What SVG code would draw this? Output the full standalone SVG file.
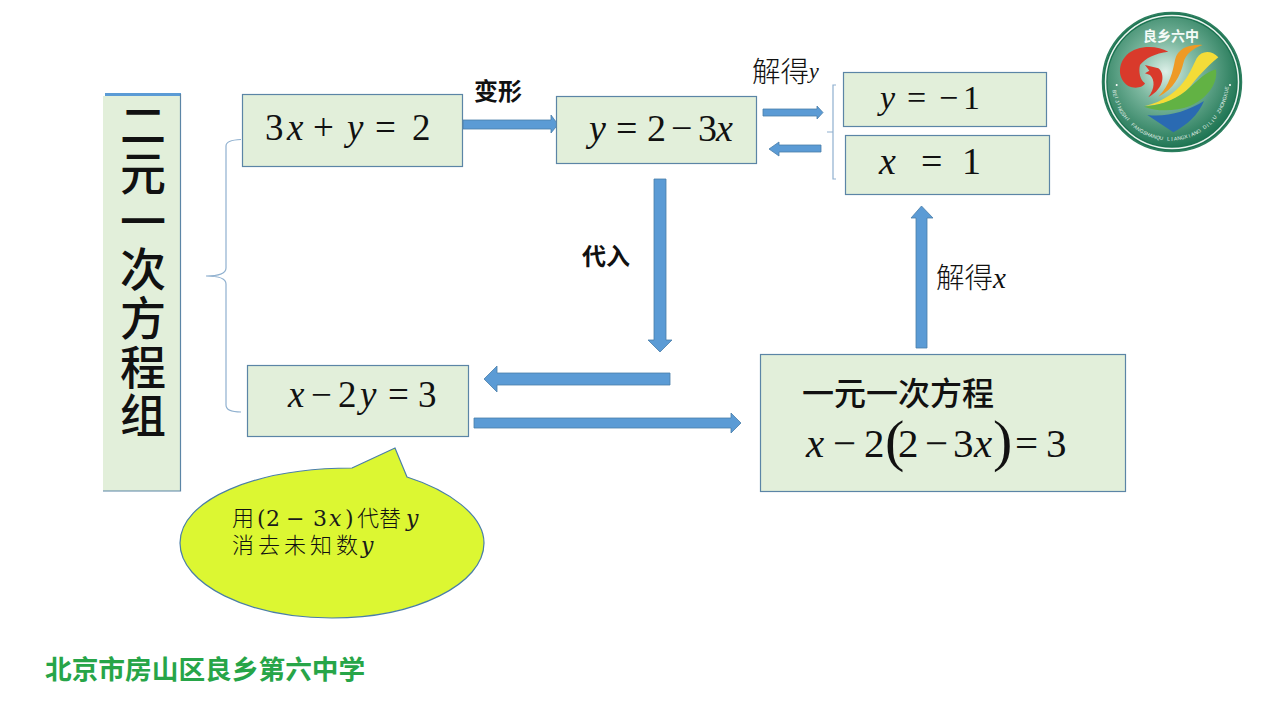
<svg xmlns="http://www.w3.org/2000/svg" width="1280" height="720" viewBox="0 0 1280 720">
<style>
.box{fill:#e2efda;stroke:#5b85a6;stroke-width:1.2}
.arrow{fill:#5b9bd5;stroke:#4a7ea8;stroke-width:.8}
.brace{fill:none;stroke:#8fb0cf;stroke-width:1.2}
.cjk{font-family:"Liberation Serif","Noto Sans CJK SC",serif;fill:#111;font-weight:300}
.sans{font-family:"Noto Sans CJK SC",sans-serif;fill:#111}
.math{font-family:"Liberation Serif","Noto Sans CJK SC",serif;fill:#111}
.i{font-style:italic}
.title{font-family:"Noto Sans CJK SC",sans-serif;font-size:46px;font-weight:500;fill:#111;text-anchor:middle}
.cam{font-family:"DejaVu Serif",serif;fill:#1a1a1a;font-weight:400}
</style>
<rect width="1280" height="720" fill="#fff"/>

<g id="connectors">
<path class="brace" d="M241 139.500Q226 140 226 146V268Q226 276 206 276Q226 276 226 284V405Q226 412 241 412"/>
<path class="brace" stroke="#7f9fbd" d="M836 85H833V132H827H833V179H836"/>
<path class="arrow" d="M463 120H551V115L558 124.500L551 133V129H463Z"/>
<path class="arrow" d="M763 109H817V106L823 112.500L817 119V116H763Z"/>
<path class="arrow" d="M821 145H779V142L769 149L779 156V152H821Z"/>
<path class="arrow" d="M654 179H666V340H672L660 352L648 340H654Z"/>
<path class="arrow" d="M670 373H497V366L484 379L497 392V385H670Z"/>
<path class="arrow" d="M474 418H731V413L741 423L731 433V428H474Z"/>
<path class="arrow" d="M916 348V218H911L921.500 206L933 218H927V348Z"/>
</g>

<g id="title">
<rect x="105" y="93" width="76" height="3" fill="#5b9bd5"/>
<rect x="103" y="96" width="77.500" height="395" fill="#e2efda"/>
<path d="M180.500 94V491H103" fill="none" stroke="#5b85a6" stroke-width="1.200"/>
<text class="title" x="143" y="142">二</text>
<text class="title" x="143" y="190">元</text>
<text class="title" x="143" y="238">一</text>
<text class="title" x="143" y="286">次</text>
<text class="title" x="143" y="335">方</text>
<text class="title" x="143" y="384">程</text>
<text class="title" x="143" y="432">组</text>
</g>

<g id="eq1">
<rect class="box" x="242.500" y="94.500" width="220" height="72"/>
<text class="math" y="140" font-size="37"><tspan x="265">3</tspan><tspan class="i" x="287">x</tspan><tspan x="313">+</tspan><tspan class="i" x="347">y</tspan><tspan x="375">=</tspan><tspan x="412">2</tspan></text>
</g>

<g id="eq2">
<rect class="box" x="556.500" y="96.500" width="200" height="67"/>
<text class="math" y="141" font-size="38"><tspan class="i" x="589">y</tspan><tspan x="616">=</tspan><tspan x="647">2</tspan><tspan x="671">−</tspan><tspan x="698">3</tspan><tspan class="i" x="716">x</tspan></text>
</g>

<g id="result-y">
<rect class="box" x="843.500" y="72.500" width="203" height="54"/>
<text class="math" y="109" font-size="34"><tspan class="i" x="880">y</tspan><tspan x="907">=</tspan><tspan x="939">−</tspan><tspan x="963">1</tspan></text>
</g>

<g id="result-x">
<rect class="box" x="845.500" y="135.500" width="204" height="59"/>
<text class="math" y="174" font-size="38"><tspan class="i" x="879">x</tspan><tspan x="921">=</tspan><tspan x="962">1</tspan></text>
</g>

<g id="eq3">
<rect class="box" x="247.500" y="365.500" width="221" height="71"/>
<text class="math" y="407" font-size="37"><tspan class="i" x="288">x</tspan><tspan x="311">−</tspan><tspan x="338">2</tspan><tspan class="i" x="360">y</tspan><tspan x="388">=</tspan><tspan x="418">3</tspan></text>
</g>

<g id="eq4">
<rect class="box" x="760.500" y="354.500" width="365" height="137"/>
<text class="sans" x="802" y="405" font-size="32" font-weight="500">一元一次方程</text>
<text class="math" y="457" font-size="41"><tspan class="i" x="806">x</tspan><tspan x="833">−</tspan><tspan x="864">2</tspan><tspan x="885" font-size="58" dy="3">(</tspan><tspan x="898" dy="-3">2</tspan><tspan x="925">−</tspan><tspan x="953">3</tspan><tspan class="i" x="974">x</tspan><tspan x="993" font-size="58" dy="3">)</tspan><tspan x="1015" dy="-3">=</tspan><tspan x="1046">3</tspan></text>
</g>

<g id="label-bianxing"><text class="sans" x="474" y="100" font-size="24" font-weight="700">变形</text></g>
<g id="label-dairu"><text class="sans" x="582" y="265" font-size="24" font-weight="700">代入</text></g>
<g id="label-jiedey"><text class="cjk" x="752" y="82" font-size="28.500">解得<tspan class="i" font-size="22" font-weight="400" dy="-4">y</tspan></text></g>
<g id="label-jiedex"><text class="cjk" x="936" y="288" font-size="28.500">解得<tspan class="i" font-weight="400" font-size="29">x</tspan></text></g>

<g id="callout">
<path d="M352 468L395 448L407 477C448 490 484 515 484 543C484 584 416 618 332 618C248 618 180 584 180 543C180 500 255 468 352 468Z" fill="#dcf732" stroke="#4a7ea8" stroke-width="1.200"/>
<text y="526" font-size="22" class="sans" font-weight="300"><tspan x="232">用</tspan><tspan class="cam" x="257">(</tspan><tspan class="cam" x="266">2</tspan><tspan class="cam" x="286">−</tspan><tspan class="cam" x="313">3</tspan><tspan class="cam" font-style="italic" x="329">x</tspan><tspan class="cam" x="345">)</tspan><tspan x="357">代替</tspan><tspan class="cam" font-style="italic" x="406">y</tspan></text>
<text y="553" font-size="22" class="sans" font-weight="300"><tspan x="232" letter-spacing="4">消去未知数</tspan><tspan class="cam" font-style="italic" x="361">y</tspan></text>
</g>

<g id="footer"><text x="45" y="679" font-size="26.700" font-weight="700" fill="#27a548" font-family="Noto Sans CJK SC,serif">北京市房山区良乡第六中学</text></g>

<g id="logo">
<defs>
<radialGradient id="lg" cx=".45" cy=".42" r=".6"><stop offset="0" stop-color="#dcefe8"/><stop offset=".4" stop-color="#7db8a0"/><stop offset="1" stop-color="#1d7452"/></radialGradient>
</defs>
<circle cx="1172" cy="82" r="69.500" fill="#1d7452" stroke="#2d7f5f" stroke-width="1.500"/>
<circle cx="1172" cy="82" r="66.500" fill="none" stroke="#eaf4ef" stroke-width="1.500"/>
<circle cx="1172" cy="82" r="64.500" fill="url(#lg)"/>
<text x="1171" y="41" text-anchor="middle" font-size="14" font-weight="700" fill="#f4fbf7" font-family="Noto Sans CJK SC,sans-serif">良乡六中</text>
<g transform="translate(1090 0) scale(.3333)">
<path d="M235 155C200 135 140 135 110 165C85 190 80 235 115 258C135 268 160 262 165 250C150 240 145 215 150 195C165 175 195 160 235 155Z" fill="#d93a2b"/>
<path d="M165 195L205 205C225 220 225 265 175 292C195 265 195 240 180 225L165 220L178 212Z" fill="#d93a2b"/>
<path d="M338 135C300 132 262 145 255 180C248 215 240 255 205 290C250 270 272 225 280 190C287 160 310 145 338 135Z" fill="#ee9a25"/>
<path d="M385 172C365 150 335 150 320 175C305 205 290 250 240 285C215 302 190 312 165 318C230 315 275 290 300 260C320 235 345 205 385 172Z" fill="#f4dc38"/>
<path d="M378 208C350 215 325 240 300 262C265 295 220 315 162 320C200 335 255 335 300 318C345 300 385 255 378 208Z" fill="#62b244"/>
<path d="M172 345C230 352 290 335 342 303C325 345 290 375 250 397Z" fill="#2a6ab2"/>
<circle cx="80" cy="255" r="3" fill="#fff"/>
<circle cx="420" cy="255" r="3" fill="#fff"/>
</g>
<text font-size="5" fill="#e6f3ed" font-family="Liberation Sans,sans-serif" text-anchor="middle" x="1114.1 1114.7 1115.5 1116.6 1117.9 1119.3 1121 1122.9 1125 1127.3 1129.7 1132.3 1135 1137.9 1140.9 1144.1 1147.3 1150.7 1154.1 1157.6 1161.1 1164.7 1168.4 1172 1175.6 1179.3 1182.9 1186.4 1189.9 1193.3 1196.7 1199.9 1203.1 1206.1 1209 1211.7 1214.3 1216.7 1219 1221.1 1223 1224.7 1226.1 1227.4 1228.5 1229.3 1229.9" y="90.100 93.700 97.300 100.800 104.200 107.500 110.700 113.800 116.800 119.700 122.400 124.900 127.300 129.500 131.600 133.400 135 136.500 137.700 138.700 139.500 140 140.400 140.500 140.400 140 139.500 138.700 137.700 136.500 135 133.400 131.600 129.500 127.300 124.900 122.400 119.700 116.800 113.800 110.700 107.500 104.200 100.800 97.300 93.700 90.100" rotate="82 78.400 74.900 71.300 67.700 64.200 60.600 57 53.500 49.900 46.300 42.800 39.200 35.700 32.100 28.500 25 21.400 17.800 14.300 10.700 7.100 3.600 0 -3.600 -7.100 -10.700 -14.300 -17.800 -21.400 -25 -28.500 -32.100 -35.700 -39.200 -42.800 -46.300 -49.900 -53.500 -57 -60.600 -64.200 -67.700 -71.300 -74.900 -78.400 -82">BEIJINGSHI FANGSHANQU LIANGXIANG DILIU ZHONGXUE</text>
</g>
</svg>
